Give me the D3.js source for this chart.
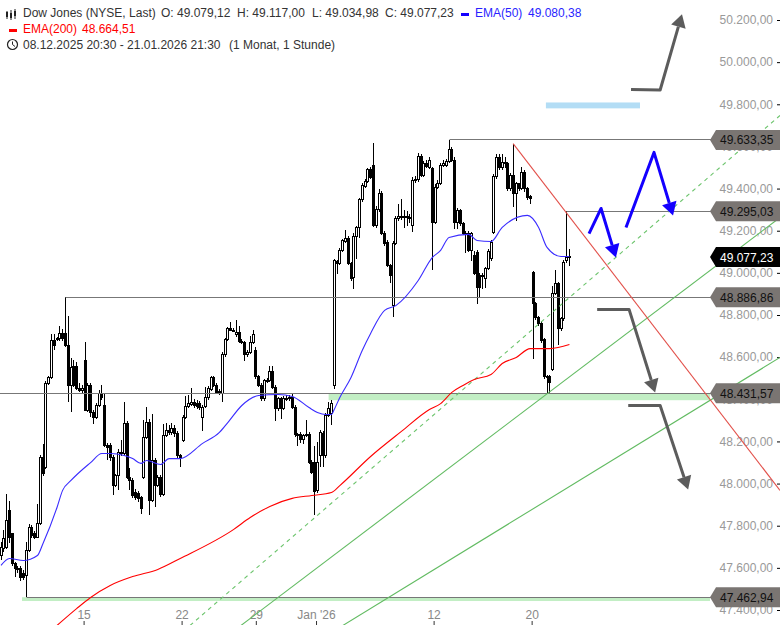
<!DOCTYPE html>
<html>
<head>
<meta charset="utf-8">
<script src="https://cdn.jsdelivr.net/npm/d3@7"></script>
<style>
  body { margin: 0; background: #fff; }
  svg { display: block; font-family: "Liberation Sans", Arial, sans-serif; font-size: 12px; }
</style>
</head>
<body>
<script>
// hourly candles
var opens = [47661,47693,47701,47875,47764,47622,47598,47598,47575,47566,
  47685,47796,47764,47748,47812,48128,48080,48476,48508,48682,
  48685,48690,48713,48713,48658,48468,48558,48558,48452,48444,
  48587,48350,48468,48342,48318,48373,48429,48373,48183,48183,
  48128,47994,48041,48152,48144,48286,48033,48017,47962,47954,
  47935,48033,48223,48294,47922,48112,47994,48033,47951,48231,
  48255,48246,48262,48238,48135,48207,48317,48368,48378,48388,
  48381,48381,48317,48368,48409,48447,48504,48468,48441,48431,
  48615,48684,48737,48730,48708,48718,48678,48673,48615,48626,
  48673,48634,48510,48468,48404,48491,48491,48536,48457,48357,
  48404,48357,48404,48404,48409,48365,48233,48233,48210,48230,
  48235,48104,48104,47970,48135,48238,48135,48325,48333,48468,
  49058,49048,49108,49152,49164,49048,48982,49175,49216,49349,
  49412,49437,49491,49512,49227,49301,49377,49188,49148,49037,
  48847,49143,49259,49270,49263,49270,49263,49227,49441,49444,
  49555,49464,49520,49504,49496,49243,49409,49428,49512,49512,
  49532,49586,49536,49243,49298,49235,49188,49188,49108,49085,
  49100,48990,48985,48974,49022,49069,49195,49460,49548,49501,
  49528,49520,49401,49464,49377,49425,49401,49480,49401,49365,
  49002,48855,48792,48764,48685,48510,48510,48542,48903,48950,
  48737,48784,49061,49079];
var highs = [47725,47780,47954,47922,47770,47630,47610,47610,47590,47724,
  47812,47805,47775,47906,48140,48191,48490,48515,48713,48713,
  48700,48750,48738,48887,48800,48600,48590,48580,48480,48470,
  48674,48480,48480,48350,48385,48448,48468,48429,48195,48195,
  48140,48050,48165,48210,48389,48300,48075,48030,47975,47965,
  47945,48302,48365,48310,48334,48125,48045,48045,48286,48290,
  48280,48290,48278,48250,48145,48330,48420,48425,48456,48405,
  48400,48395,48375,48460,48465,48515,48515,48480,48450,48625,
  48695,48745,48768,48740,48779,48752,48690,48680,48635,48705,
  48732,48650,48520,48480,48500,48505,48559,48560,48470,48415,
  48415,48420,48425,48425,48428,48375,48242,48245,48240,48305,
  48245,48115,48183,48198,48258,48250,48335,48390,48400,49070,
  49065,49118,49165,49207,49175,49055,49190,49225,49360,49428,
  49448,49500,49505,49621,49320,49401,49390,49200,49160,49045,
  49155,49270,49327,49354,49301,49295,49280,49455,49460,49570,
  49567,49535,49540,49550,49505,49425,49445,49525,49540,49545,
  49633,49600,49550,49310,49306,49245,49200,49200,49195,49108,
  49110,49000,49000,49030,49115,49160,49470,49565,49567,49565,
  49550,49530,49475,49615,49435,49430,49505,49490,49410,49370,
  49010,48865,48800,48775,48695,48520,48520,48942,49017,48960,
  48795,49065,49295,49117];
var lows = [47640,47680,47690,47720,47610,47558,47580,47540,47545,47463,
  47680,47745,47740,47745,47805,48040,48070,48470,48500,48635,
  48680,48680,48680,48650,48389,48342,48460,48445,48435,48430,
  48345,48340,48318,48286,48310,48365,48400,48175,48112,48110,
  47946,47985,47970,48135,48135,48025,47970,47935,47925,47915,
  47859,48025,48215,47851,47915,47890,47985,47940,47945,48225,
  48235,48235,48225,48125,48080,48199,48310,48360,48370,48360,
  48355,48350,48254,48360,48400,48440,48460,48430,48425,48388,
  48605,48678,48725,48720,48700,48670,48665,48586,48605,48618,
  48665,48500,48460,48395,48395,48480,48484,48450,48301,48345,
  48310,48350,48392,48395,48355,48225,48183,48195,48191,48225,
  48095,48048,47851,47960,48080,48080,48125,48318,48278,48452,
  48998,49040,49100,49145,49040,48966,48927,49070,49170,49340,
  49405,49430,49450,49219,49215,49290,49180,49130,49030,48952,
  48792,49135,49250,49255,49216,49225,49240,49195,49430,49435,
  49455,49455,49500,49495,49014,49235,49400,49420,49505,49505,
  49525,49528,49211,49211,49225,49180,49095,49100,49061,48990,
  48855,48887,48925,48930,49015,49060,49188,49450,49490,49490,
  49500,49390,49390,49314,49248,49390,49395,49385,49350,49330,
  48594,48780,48750,48670,48500,48431,48432,48535,48895,48660,
  48725,48775,49050,49035];
var closes = [47701,47740,47827,47748,47622,47598,47593,47558,47558,47685,
  47796,47756,47748,47812,48128,48049,48476,48505,48682,48658,
  48690,48713,48690,48658,48468,48555,48468,48452,48444,48452,
  48350,48468,48342,48318,48373,48429,48413,48183,48175,48128,
  47994,48041,48152,48144,48286,48033,48017,47946,47938,47930,
  47883,48223,48294,47922,48112,47994,48033,47951,48231,48255,
  48247,48262,48238,48135,48127,48317,48368,48381,48388,48373,
  48368,48362,48365,48409,48452,48504,48468,48436,48431,48615,
  48684,48737,48731,48727,48718,48678,48673,48615,48626,48673,
  48708,48510,48468,48404,48491,48488,48536,48457,48357,48404,
  48357,48404,48400,48412,48365,48233,48230,48210,48230,48235,
  48104,48056,47966,48104,48246,48135,48325,48357,48381,49061,
  49048,49108,49156,49164,49048,48974,49175,49216,49349,49417,
  49437,49491,49457,49227,49301,49377,49188,49140,49037,48990,
  49143,49259,49270,49263,49270,49263,49259,49441,49444,49555,
  49464,49520,49507,49536,49243,49409,49428,49512,49520,49532,
  49586,49536,49243,49298,49235,49188,49185,49108,49188,48998,
  48934,48934,48990,49022,49105,49148,49460,49548,49501,49528,
  49520,49401,49464,49377,49425,49401,49480,49401,49362,49354,
  48855,48792,48760,48681,48510,48505,48484,48903,48950,48737,
  48784,49053,49077,49077];

// EMA vertices as bar index / value
var ema50Bars = [0,3,8,13,15,20,22,25,32,36,39,44,47,50,52,57,60,64,72,78,81,86,92,99,104,110,113,116,118,119,121,125,129,132,137,141,149,154,157,160,167,170,175,179,188,192,195,200,203];
var ema50Vals = [47614,47647,47637,47661,47718,47889,47970,48017,48102,48145,48145,48136,48121,48098,48112,48093,48121,48121,48193,48245,48292,48373,48420,48425,48416,48363,48340,48330,48330,48354,48411,48506,48634,48715,48824,48847,48966,49075,49109,49170,49185,49156,49151,49218,49275,49218,49123,49080,49080];
var ema200Bars = [20,27,32,39,47,56,64,83,89,96,104,111,118,121,132,143,153,157,161,165,169,175,179,184,189,196,203];
var ema200Vals = [47329,47409,47462,47519,47561,47595,47647,47784,47841,47894,47932,47946,47960,47993,48131,48250,48354,48382,48435,48468,48496,48520,48572,48601,48643,48643,48662];

var yTicks = [47400,47600,47800,48000,48200,48400,48600,48800,49000,49200,49400,49600,49800,50000,50200];
var xTickBars = [29.5,64.5,91,112.5,154.5,189.5];
var xTickLabels = ["15","22","29","Jan '26","12","20"];

// horizontal levels: price and first bar
var levelPrices = [49633.35,49295.03,48886.86,48431.57,47462.94];
var levelStarts = [160,202,23,-0.4,9];

// hand-drawn trend lines as [bar, price]
var greenLine1 = [[85.7,47329],[278.2,49265]];
var greenLine2 = [[122.1,47329],[278.2,48601]];
var dashedLine = [[67.5,47329],[278.2,49749]];
var redLine = [[182.9,49616],[278.2,47970]];

var blueArrows = [[[210,49189],[214.3,49308],[219.6,49075]],
  [[223.2,49218],[233.2,49574],[240,49275]]];
var greyArrows = [[[225,49872],[235.4,49870],[243.2,50230]],
  [[212.9,48829],[224.3,48829],[233.6,48435]],
  [[224,48373],[235.4,48373],[245.4,47974]]];

var width = 780, height = 625;
var fmt = d3.formatLocale({decimal: ",", thousands: ".", grouping: [3], currency: ["", ""]}).format(",.2f");

var x = d3.scaleLinear().domain([0, 278.2]).range([1, 780]);
var y = d3.scaleLinear().domain([47400, 50200]).range([610.5, 20.5]);

var svg = d3.select("body").append("svg").attr("width", width).attr("height", height);

function snap(v) { return Math.floor(v) + 0.5; }

// green support zones
svg.append("rect").attr("x", x(117)).attr("y", y(48431.57)).attr("width", x(253.2) - x(117))
  .attr("height", y(48398) - y(48431.57)).attr("fill", "#c2eec4");
svg.append("rect").attr("x", x(7.5)).attr("y", y(47462.94)).attr("width", x(253.2) - x(7.5))
  .attr("height", y(47445) - y(47462.94)).attr("fill", "#c2eec4");

// right axis
var yAxis = d3.axisLeft(y).tickValues(yTicks).tickSize(3).tickPadding(4).tickFormat(fmt);
var yG = svg.append("g").attr("transform", "translate(780,-0.5)").call(yAxis);
yG.select(".domain").remove();
yG.selectAll("text").attr("fill", "#999").style("font-size", "12px").style("font-family", "inherit");
yG.selectAll("line").attr("stroke", "#000");

// bottom axis
var xAxis = d3.axisTop(x).tickValues(xTickBars).tickSize(4).tickPadding(2)
  .tickFormat(function(d, i) { return xTickLabels[i]; });
var xG = svg.append("g").attr("transform", "translate(0,625)").call(xAxis);
xG.select(".domain").remove();
xG.selectAll("text").attr("fill", "#888").style("font-size", "12px").style("font-family", "inherit");
xG.selectAll("line").attr("stroke", "#333");

// candles
var bars = d3.range(opens.length);
svg.selectAll("line.wick").data(bars).enter().append("line")
  .attr("class", "wick")
  .attr("x1", function(i) { return snap(x(i)); })
  .attr("x2", function(i) { return snap(x(i)); })
  .attr("y1", function(i) { return y(highs[i]); })
  .attr("y2", function(i) { return y(lows[i]); })
  .attr("stroke", "#000")
  .attr("shape-rendering", "crispEdges");
svg.selectAll("rect.body").data(bars).enter().append("rect")
  .attr("class", "body")
  .attr("x", function(i) { return snap(x(i)) - 1; })
  .attr("width", 2)
  .attr("y", function(i) { return y(Math.max(opens[i], closes[i])); })
  .attr("height", function(i) { return Math.max(1, Math.abs(y(opens[i]) - y(closes[i]))); })
  .attr("fill", function(i) { return closes[i] >= opens[i] ? "#fff" : "#000"; })
  .attr("stroke", "#000")
  .attr("shape-rendering", "crispEdges");

// levels
svg.selectAll("line.level").data(levelPrices).enter().append("line")
  .attr("class", "level")
  .attr("x1", function(d, i) { return snap(x(levelStarts[i])); })
  .attr("x2", 712)
  .attr("y1", function(d) { return snap(y(d)); })
  .attr("y2", function(d) { return snap(y(d)); })
  .attr("stroke", "#777")
  .attr("stroke-width", 1);

// trend lines
var trend = d3.line().x(function(d) { return x(d[0]); }).y(function(d) { return y(d[1]); });
svg.append("path").attr("d", trend(greenLine1)).attr("fill", "none").attr("stroke", "#62bb62").attr("stroke-width", 1.1);
svg.append("path").attr("d", trend(greenLine2)).attr("fill", "none").attr("stroke", "#62bb62").attr("stroke-width", 1.1);
svg.append("path").attr("d", trend(dashedLine)).attr("fill", "none").attr("stroke", "#6cc46c").attr("stroke-width", 1.1).attr("stroke-dasharray", "4,4");
svg.append("path").attr("d", trend(redLine)).attr("fill", "none").attr("stroke", "#e2504a").attr("stroke-width", 1.1);

// EMAs
var emaLine = d3.line().curve(d3.curveMonotoneX)
  .x(function(i) { return x(i[0]); }).y(function(i) { return y(i[1]); });
svg.append("path").attr("d", emaLine(d3.zip(ema200Bars, ema200Vals)))
  .attr("fill", "none").attr("stroke", "#ff0000").attr("stroke-width", 1.1);
svg.append("path").attr("d", emaLine(d3.zip(ema50Bars, ema50Vals)))
  .attr("fill", "none").attr("stroke", "#3a2cff").attr("stroke-width", 1.1);

// blue marker above the chart
svg.append("rect").attr("x", x(194.6)).attr("y", y(49811)).attr("width", x(228.2) - x(194.6))
  .attr("height", y(49783) - y(49811)).attr("fill", "#b3ddf5");

// arrows
function drawArrow(points, color) {
  var a = points[points.length - 2], b = points[points.length - 1];
  var x1 = x(a[0]), y1 = y(a[1]), x2 = x(b[0]), y2 = y(b[1]);
  var len = Math.sqrt((x2 - x1) * (x2 - x1) + (y2 - y1) * (y2 - y1));
  var ux = (x2 - x1) / len, uy = (y2 - y1) / len;
  var bx = x2 - ux * 13, by = y2 - uy * 13;
  // the shaft stops inside the head so the tip stays sharp
  var shaft = [[x(points[0][0]), y(points[0][1])], [x1, y1], [bx, by]];
  svg.append("path").attr("d", d3.line()(shaft)).attr("fill", "none").attr("stroke", color)
    .attr("stroke-width", 3).attr("stroke-linejoin", "round");
  svg.append("polygon")
    .attr("points", [[x2, y2], [bx - uy * 7.5, by + ux * 7.5], [bx + uy * 7.5, by - ux * 7.5]].join(" "))
    .attr("fill", color);
}
blueArrows.forEach(function(p) { drawArrow(p, "#1400ff"); });
greyArrows.forEach(function(p) { drawArrow(p, "#5c5c5c"); });

// price tags
function drawTag(price, fill, textFill) {
  var c = y(price);
  svg.append("polygon")
    .attr("points", [[710, c], [716, c - 10], [780, c - 10], [780, c + 10], [716, c + 10]].join(" "))
    .attr("fill", fill);
  svg.append("text").attr("x", 720).attr("y", c + 4.5).attr("fill", textFill).text(fmt(price));
}
levelPrices.forEach(function(p) { drawTag(p, "#7a7572", "#111"); });
drawTag(49077.23, "#000", "#fff");

// header
function label(tx, ty, str, color) {
  svg.append("text").attr("x", tx).attr("y", ty).attr("fill", color || "#333").text(str);
}
label(23, 17, "Dow Jones (NYSE, Last)");
label(161, 17, "O: 49.079,12");
label(237, 17, "H: 49.117,00");
label(312, 17, "L: 49.034,98");
label(385, 17, "C: 49.077,23");
svg.append("rect").attr("x", 461).attr("y", 13).attr("width", 8).attr("height", 3).attr("fill", "#1400ff");
label(475, 17, "EMA(50)", "#2a1fff");
label(528, 17, "49.080,38", "#2a1fff");
svg.append("rect").attr("x", 9).attr("y", 29).attr("width", 8).attr("height", 3).attr("fill", "#ff0000");
label(23, 33, "EMA(200)", "#ff0000");
label(82, 33, "48.664,51", "#ff0000");
label(23, 49, "08.12.2025 20:30 - 21.01.2026 21:30");
label(229, 49, "(1 Monat, 1 Stunde)");

// little candle icon
[[7, 11, 19, 12, 17], [11, 10, 20, 13, 18], [15, 9, 19, 11, 16]].forEach(function(c) {
  svg.append("line").attr("x1", c[0]).attr("x2", c[0]).attr("y1", c[1]).attr("y2", c[2]).attr("stroke", "#222");
  svg.append("rect").attr("x", c[0] - 1).attr("y", c[3]).attr("width", 2).attr("height", c[4] - c[3]).attr("fill", "#222");
});
// clock icon
svg.append("circle").attr("cx", 12.5).attr("cy", 44.5).attr("r", 5).attr("fill", "none").attr("stroke", "#222").attr("stroke-width", 1.2);
svg.append("path").attr("d", "M12.5,41.5V44.5L15,46.5").attr("fill", "none").attr("stroke", "#222");
</script>
</body>
</html>
